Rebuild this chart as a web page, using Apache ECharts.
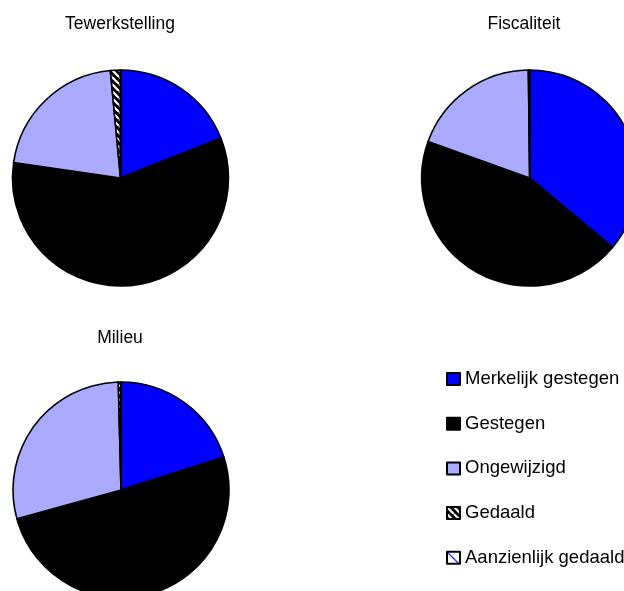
<!DOCTYPE html>
<html>
<head>
<meta charset="utf-8">
<script src="https://cdn.jsdelivr.net/npm/echarts@6/dist/echarts.min.js"></script>
<style>
  html, body { margin: 0; padding: 0; background: #ffffff; }
  #chart { width: 624px; height: 591px; }
</style>
</head>
<body>
<div id="chart"></div>
<script>
// Answer categories (legend order, drawn clockwise from 12 o'clock)
const categories = ['Merkelijk gestegen', 'Gestegen', 'Ongewijzigd', 'Gedaald', 'Aanzienlijk gedaald'];

// Share of respondents per answer (%)
const tewerkstelling = [19.0, 58.3, 21.2, 1.5, 0];
const fiscaliteit = [36.1, 44.4, 19.3, 0.2, 0];
const milieu = [20.1, 50.6, 28.9, 0.4, 0];

const pieTitles = ['Tewerkstelling', 'Fiscaliteit', 'Milieu'];
const pieValues = [tewerkstelling, fiscaliteit, milieu];

// Layout of the three pies
const pieCenters = [[120.5, 178], [529.7, 178], [121, 490]];
const titleTops = [15, 15, 329.5];
const titleCenters = [120, 524, 120];
const RADIUS = 108;
const FONT = '"Liberation Sans", Arial, Helvetica, sans-serif';

// Striped fills for the decreasing answers
function stripePattern(size, bg, fg, width) {
  const c = document.createElement('canvas');
  c.width = size; c.height = size;
  const ctx = c.getContext('2d');
  ctx.fillStyle = bg;
  ctx.fillRect(0, 0, size, size);
  ctx.strokeStyle = fg;
  ctx.lineWidth = width;
  ctx.beginPath();
  for (let k = -1; k <= 1; k++) {
    ctx.moveTo(k * size, 0);
    ctx.lineTo(k * size + size, size);
  }
  ctx.stroke();
  return { image: c, repeat: 'repeat' };
}

const fills = [
  '#0000ff',
  '#000000',
  '#aaaaff',
  stripePattern(7, '#000000', '#ffffff', 2.2),
  stripePattern(16, '#ffffff', '#0000ff', 1.2)
];

const chart = echarts.init(document.getElementById('chart'), null, { renderer: 'canvas' });

const series = pieValues.map((vals, i) => ({
  type: 'pie',
  name: pieTitles[i],
  center: pieCenters[i],
  radius: [0, RADIUS],
  startAngle: 90,
  clockwise: true,
  minAngle: 0,
  avoidLabelOverlap: false,
  label: { show: false },
  labelLine: { show: false },
  emphasis: { disabled: true },
  silent: true,
  data: categories.map((name, j) => ({
    name: name,
    value: vals[j],
    itemStyle: { color: fills[j], borderColor: '#000000', borderWidth: 1.6 }
  }))
}));

chart.setOption({
  animation: false,
  backgroundColor: '#ffffff',
  title: pieTitles.map((t, i) => ({
    text: t,
    left: titleCenters[i],
    top: titleTops[i],
    padding: 0,
    textAlign: 'center',
    textStyle: { fontFamily: FONT, fontSize: 17.5, fontWeight: 'normal', color: '#000000' }
  })),
  legend: {
    orient: 'vertical',
    left: 446,
    top: 369,
    padding: 0,
    itemWidth: 13,
    itemHeight: 12,
    itemGap: 24.7,
    icon: 'rect',
    selectedMode: false,
    data: categories,
    textStyle: { fontFamily: FONT, fontSize: 18.5, color: '#000000', lineHeight: 20 }
  },
  series: series
});
</script>
</body>
</html>
